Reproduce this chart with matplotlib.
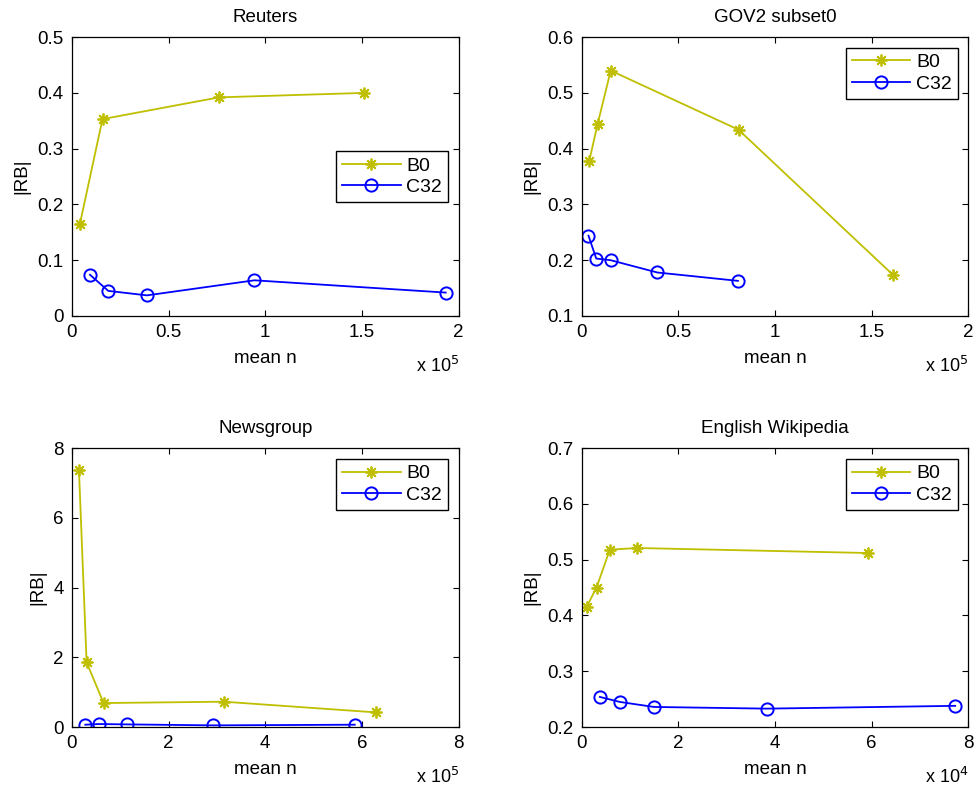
import numpy as np
import matplotlib
matplotlib.use('Agg')
import matplotlib.pyplot as plt
from matplotlib.ticker import FuncFormatter

plt.rcParams['font.family'] = ['Liberation Sans', 'DejaVu Sans']

# mean n (raw) and |RB| per corpus
reuters_b0_x = [4100, 15800, 76000, 151100]
reuters_b0_y = [0.165, 0.353, 0.392, 0.400]
reuters_c32_x = [9300, 18800, 38800, 94400, 193300]
reuters_c32_y = [0.074, 0.045, 0.037, 0.064, 0.042]

gov2_b0_x = [4000, 8300, 15100, 81200, 161300]
gov2_b0_y = [0.378, 0.444, 0.540, 0.434, 0.173]
gov2_c32_x = [3600, 7600, 15100, 39200, 80900]
gov2_c32_y = [0.244, 0.203, 0.200, 0.178, 0.163]

news_b0_x = [14500, 30300, 65500, 314000, 629000]
news_b0_y = [7.37, 1.855, 0.688, 0.727, 0.42]
news_c32_x = [27600, 55000, 113000, 291000, 585000]
news_c32_y = [0.067, 0.086, 0.076, 0.048, 0.067]

wiki_b0_x = [1030, 3100, 5850, 11500, 59300]
wiki_b0_y = [0.415, 0.450, 0.518, 0.521, 0.512]
wiki_c32_x = [3790, 7920, 15000, 38300, 77300]
wiki_c32_y = [0.254, 0.245, 0.236, 0.233, 0.238]

panels = [
    dict(title='Reuters', b0=(reuters_b0_x, reuters_b0_y), c32=(reuters_c32_x, reuters_c32_y),
         scale=5, xlim=(0, 2), ylim=(0, 0.5), yticks=np.arange(0, 0.51, 0.1),
         xticks=[0, 0.5, 1, 1.5, 2], yfmt='{:g}', loc='center right'),
    dict(title='GOV2 subset0', b0=(gov2_b0_x, gov2_b0_y), c32=(gov2_c32_x, gov2_c32_y),
         scale=5, xlim=(0, 2), ylim=(0.1, 0.6), yticks=np.arange(0.1, 0.61, 0.1),
         xticks=[0, 0.5, 1, 1.5, 2], yfmt='{:.1f}', loc='upper right'),
    dict(title='Newsgroup', b0=(news_b0_x, news_b0_y), c32=(news_c32_x, news_c32_y),
         scale=5, xlim=(0, 8), ylim=(0, 8), yticks=[0, 2, 4, 6, 8],
         xticks=[0, 2, 4, 6, 8], yfmt='{:g}', loc='upper right'),
    dict(title='English Wikipedia', b0=(wiki_b0_x, wiki_b0_y), c32=(wiki_c32_x, wiki_c32_y),
         scale=4, xlim=(0, 8), ylim=(0.2, 0.7), yticks=np.arange(0.2, 0.71, 0.1),
         xticks=[0, 2, 4, 6, 8], yfmt='{:.1f}', loc='upper right'),
]

fig = plt.figure(figsize=(9.79, 7.90), dpi=100)
lefts = [0.0735, 0.594]
bottoms = [0.600, 0.0797]
W, H = 0.395, 0.353

yellow = '#bfbf00'
blue = '#0000ff'
asterisk = (8, 2, 0)

for i, p in enumerate(panels):
    ax = fig.add_axes([lefts[i % 2], bottoms[i // 2], W, H])
    s = 10.0 ** p['scale']
    ax.plot(p['b0'][0], p['b0'][1], '-', color=yellow, lw=1.3, marker=asterisk,
            markersize=8.5, markeredgewidth=1.3, label='B0')
    ax.plot(p['c32'][0], p['c32'][1], '-', color=blue, lw=1.3, marker='o',
            markersize=8.8, markerfacecolor='none', markeredgewidth=1.4, label='C32')
    ax.set_xlim(p['xlim'][0] * s, p['xlim'][1] * s)
    ax.set_ylim(*p['ylim'])
    ax.set_xticks([t * s for t in p['xticks']])
    ax.xaxis.set_major_formatter(FuncFormatter(lambda v, pos, s=s: '{:g}'.format(round(v / s, 3))))
    ax.set_yticks(p['yticks'])
    fmt = p['yfmt']
    ax.yaxis.set_major_formatter(FuncFormatter(lambda v, pos, fmt=fmt: fmt.format(round(v, 3))))
    ax.tick_params(direction='in', top=True, right=True, length=4, width=0.8,
                   labelsize=13.5, pad=6, colors='black')
    for sp in ax.spines.values():
        sp.set_linewidth(0.9)
    ax.set_title(p['title'], fontsize=13.5, pad=11)
    ax.set_xlabel('mean n', fontsize=13.5, labelpad=6)
    ax.set_ylabel('|RB|', fontsize=13.5, labelpad=5)
    ax.text(1.0, -0.18, r'x 10$^{%d}$' % p['scale'], transform=ax.transAxes,
            ha='right', va='center', fontsize=13)
    leg = ax.legend(loc=p['loc'], fontsize=14, handlelength=3.0, fancybox=False,
                    framealpha=1, edgecolor='black', borderaxespad=0.55,
                    borderpad=0.3, labelspacing=0.2, handletextpad=0.3)
    leg.get_frame().set_linewidth(1.0)

fig.savefig('out.png', dpi=100)
